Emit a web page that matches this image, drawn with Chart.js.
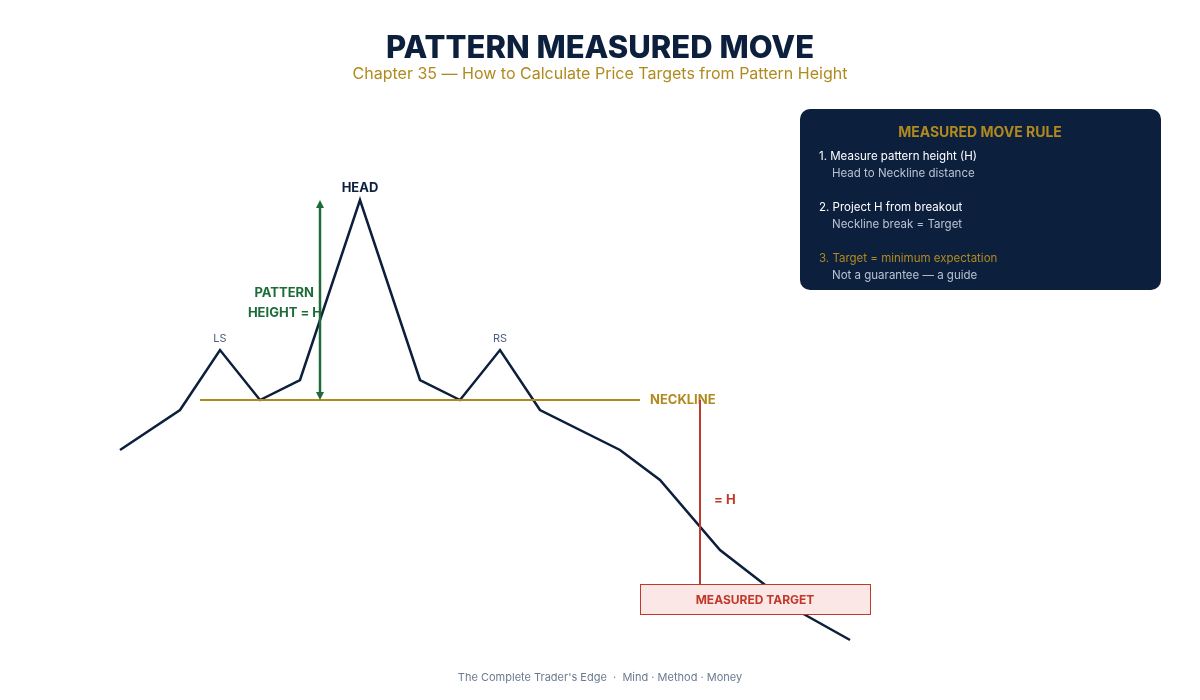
<!DOCTYPE html>
<html>
<head>
<meta charset="utf-8">
<script src="https://cdn.jsdelivr.net/npm/chart.js@4"></script>
<style>
  html, body { margin: 0; padding: 0; background: #ffffff; }
  #chart { display: block; }
</style>
</head>
<body>
<canvas id="chart" width="1200" height="700"></canvas>
<script>
// ── Data ──────────────────────────────────────────────────────
const times  = [0, 6, 10, 14, 18, 24, 30, 34, 38, 42, 50, 54, 60, 68, 73];
const prices = [50, 58, 70, 60, 64, 100, 64, 60, 70, 58, 50, 44, 30, 17.6, 12];
const necklinePrice = 60;
const headPrice = 100;
const necklineFrom = 8, necklineTo = 52;
const heightAt = 20;      // time where pattern height arrow is drawn
const projectAt = 58;     // time of projection line
const targetPrice = necklinePrice - (headPrice - necklinePrice);

const NAVY = '#0c1f3c', GOLD = '#b08a1e', GREEN = '#1e6b3a', RED = '#c0392b', MUTED = '#6b7a90';

// ── Annotations plugin ────────────────────────────────────────
const annotations = {
  id: 'annotations',
  afterDatasetsDraw(chart) {
    const { ctx, scales: { x, y } } = chart;
    const px = v => x.getPixelForValue(v), py = v => y.getPixelForValue(v);
    ctx.save();

    // Neckline
    ctx.strokeStyle = GOLD; ctx.lineWidth = 2;
    ctx.beginPath(); ctx.moveTo(px(necklineFrom), py(necklinePrice)); ctx.lineTo(px(necklineTo), py(necklinePrice)); ctx.stroke();
    ctx.fillStyle = GOLD; ctx.font = 'bold 13px Inter'; ctx.textBaseline = 'middle'; ctx.textAlign = 'left';
    ctx.fillText('NECKLINE', px(necklineTo) + 10, py(necklinePrice));

    // Pattern height arrow
    const hx = px(heightAt), yTop = py(headPrice), yBot = py(necklinePrice);
    ctx.strokeStyle = GREEN; ctx.fillStyle = GREEN; ctx.lineWidth = 2.5;
    ctx.beginPath(); ctx.moveTo(hx, yTop + 4); ctx.lineTo(hx, yBot - 4); ctx.stroke();
    [[yTop, 1], [yBot, -1]].forEach(([yy, d]) => {
      ctx.beginPath(); ctx.moveTo(hx, yy); ctx.lineTo(hx - 4, yy + 8 * d); ctx.lineTo(hx + 4, yy + 8 * d); ctx.closePath(); ctx.fill();
    });
    ctx.font = 'bold 13px Inter'; ctx.textAlign = 'right';
    ctx.fillText('PATTERN', hx - 6, 293);
    ctx.fillText('HEIGHT = H', hx + 2, 313);

    // Labels
    ctx.textAlign = 'center';
    ctx.fillStyle = NAVY; ctx.font = 'bold 13px Inter';
    ctx.fillText('HEAD', px(24), py(headPrice) - 12);
    ctx.fillStyle = '#4a5f80'; ctx.font = '11px Inter';
    ctx.fillText('LS', px(10), py(70) - 11);
    ctx.fillText('RS', px(38), py(70) - 11);

    // Projection line
    const vx = px(projectAt);
    ctx.strokeStyle = RED; ctx.lineWidth = 2;
    ctx.beginPath(); ctx.moveTo(vx, py(necklinePrice)); ctx.lineTo(vx, py(targetPrice) - 15); ctx.stroke();
    ctx.fillStyle = RED; ctx.font = 'bold 13px Inter'; ctx.textAlign = 'left';
    ctx.fillText('= H', vx + 14, py(40));

    // Target box
    const by = py(targetPrice);
    ctx.fillStyle = '#fbe7e5'; ctx.fillRect(640.5, by - 15, 230, 30);
    ctx.strokeStyle = RED; ctx.lineWidth = 1; ctx.strokeRect(640.5, by - 15.5, 230, 30);
    ctx.fillStyle = RED; ctx.textAlign = 'center'; ctx.font = 'bold 12px Inter';
    ctx.fillText('MEASURED TARGET', 755, by);

    // Rule box
    ctx.fillStyle = NAVY;
    ctx.beginPath(); ctx.roundRect(800, 109, 361, 181, 10); ctx.fill();
    ctx.fillStyle = GOLD; ctx.font = 'bold 14px Inter';
    ctx.fillText('MEASURED MOVE RULE', 980, 133);
    ctx.textAlign = 'left'; ctx.font = '11.5px Inter';
    const rows = [
      ['1. Measure pattern height (H)', '#ffffff', 819, 157],
      ['Head to Neckline distance', '#b8c2d2', 832, 174],
      ['2. Project H from breakout', '#ffffff', 819, 208],
      ['Neckline break = Target', '#b8c2d2', 832, 225],
      ['3. Target = minimum expectation', GOLD, 819, 259],
      ['Not a guarantee — a guide', '#b8c2d2', 832, 276],
    ];
    rows.forEach(([t, c, xx, yy]) => { ctx.fillStyle = c; ctx.fillText(t, xx, yy); });

    // Titles
    ctx.textAlign = 'center';
    ctx.fillStyle = NAVY; ctx.font = '800 31px Inter';
    ctx.fillText('PATTERN MEASURED MOVE', 600, 49);
    ctx.fillStyle = GOLD; ctx.font = '16px Inter';
    ctx.fillText('Chapter 35 — How to Calculate Price Targets from Pattern Height', 600, 74);
    ctx.fillStyle = MUTED; ctx.font = '11px Inter';
    ctx.fillText("The Complete Trader's Edge  ·  Mind · Method · Money", 600, 678);

    ctx.restore();
  }
};

new Chart(document.getElementById('chart'), {
  type: 'line',
  data: {
    datasets: [{
      data: times.map((t, i) => ({ x: t, y: prices[i] })),
      borderColor: NAVY, borderWidth: 2.5, pointRadius: 0, tension: 0, fill: false,
    }],
  },
  options: {
    responsive: false, animation: false,
    layout: { padding: 0 },
    plugins: { legend: { display: false }, tooltip: { enabled: false } },
    scales: {
      x: { type: 'linear', display: false, min: -12, max: 108 },
      y: { type: 'linear', display: false, min: 0, max: 140 },
    },
  },
  plugins: [annotations],
});
</script>
</body>
</html>
